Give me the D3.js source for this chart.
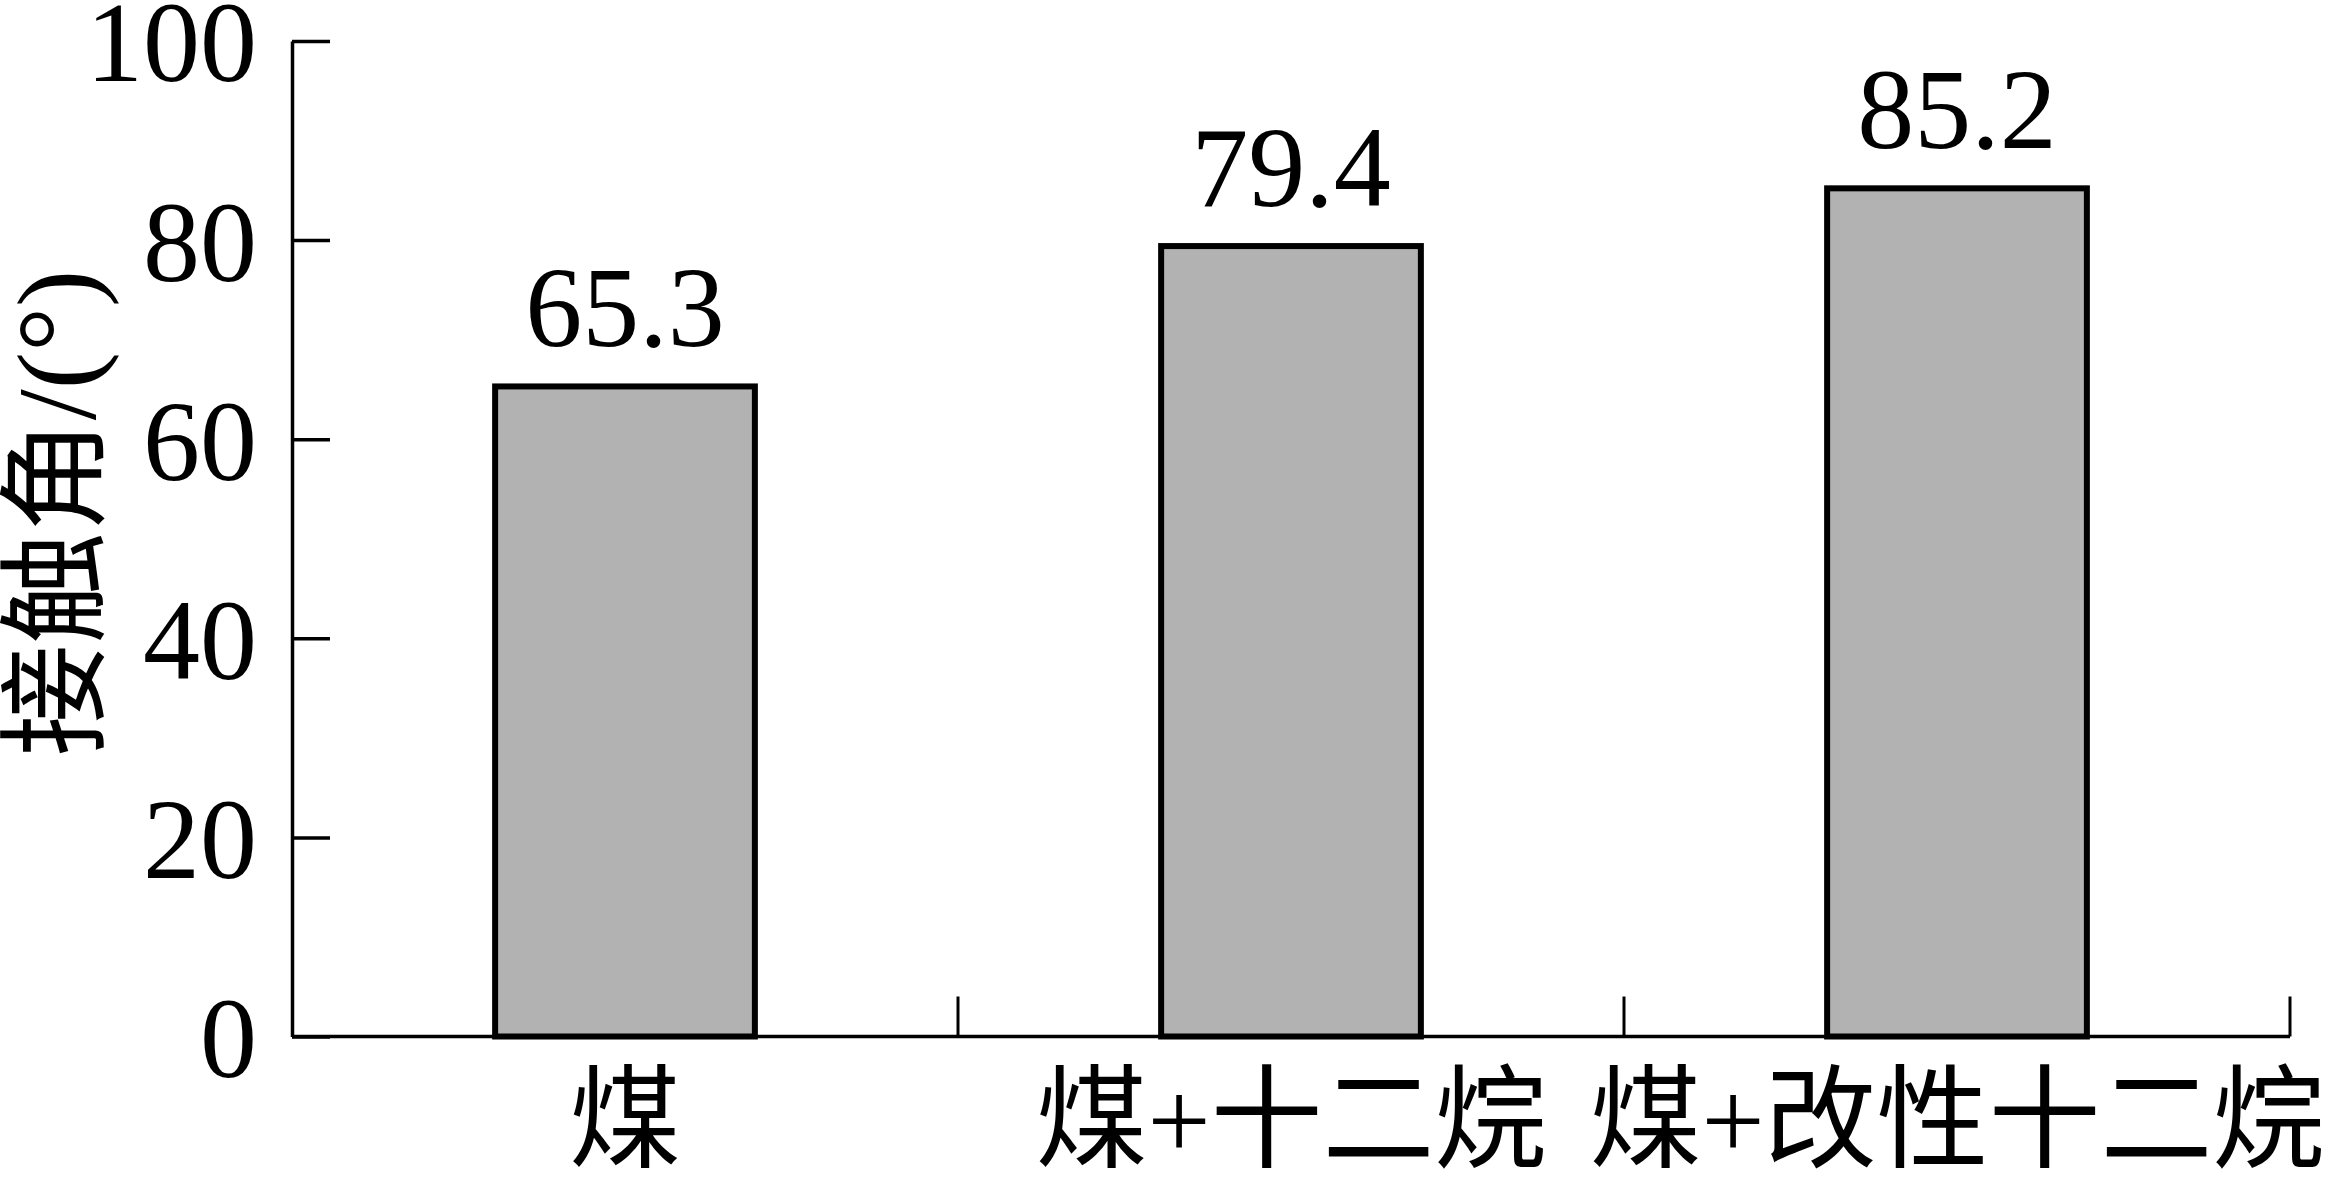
<!DOCTYPE html>
<html>
<head>
<meta charset="utf-8">
<script src="https://cdn.jsdelivr.net/npm/d3@7"></script>
<style>
  body { margin: 0; background: #fff; }
  text { font-family: "Liberation Serif", "Noto Sans CJK SC", serif; fill: #000; }
</style>
</head>
<body>
<div id="chart"></div>
<script>
var svgWidth = 2329;
var svgHeight = 1185;

var margin = { top: 41, right: 39, bottom: 148.5, left: 292 };
var width = svgWidth - margin.left - margin.right;
var height = svgHeight - margin.top - margin.bottom;

// chart data
var categories = ["煤", "煤+十二烷", "煤+改性十二烷"];
var contactAngle = [65.3, 79.4, 85.2];
var valueLabels = ["65.3", "79.4", "85.2"];
var yTicks = [0, 20, 40, 60, 80, 100];

var svg = d3.select("#chart")
  .append("svg")
  .attr("width", svgWidth)
  .attr("height", svgHeight);

var chartGroup = svg.append("g")
  .attr("transform", `translate(${margin.left}, ${margin.top})`);

// scales
var xBand = d3.scaleBand()
  .domain(categories)
  .range([0, width])
  .paddingInner(0.61)
  .paddingOuter(0.305);

var xOuter = d3.scaleBand()
  .domain(categories)
  .range([0, width])
  .padding(0);

var yLinearScale = d3.scaleLinear()
  .domain([0, 100])
  .range([height, 0]);

// bars
chartGroup.selectAll(".bar")
  .data(contactAngle)
  .enter()
  .append("rect")
  .attr("class", "bar")
  .attr("x", (d, i) => xBand(categories[i]))
  .attr("width", xBand.bandwidth())
  .attr("y", d => yLinearScale(d))
  .attr("height", d => height - yLinearScale(d))
  .attr("fill", "#b2b2b2")
  .attr("stroke", "#000")
  .attr("stroke-width", 6);

// value labels
chartGroup.selectAll(".valueText")
  .data(contactAngle)
  .enter()
  .append("text")
  .attr("class", "valueText")
  .attr("x", (d, i) => xBand(categories[i]) + xBand.bandwidth() / 2)
  .attr("y", d => yLinearScale(d) - 40)
  .attr("text-anchor", "middle")
  .attr("font-size", "114px")
  .text((d, i) => valueLabels[i]);

// y axis (ticks point inward)
var leftAxis = d3.axisLeft(yLinearScale)
  .tickValues(yTicks)
  .tickSize(-38)
  .tickSizeOuter(0)
  .tickPadding(35);

var yAxis = chartGroup.append("g")
  .call(leftAxis);
yAxis.select(".domain").attr("stroke", "#000").attr("stroke-width", 3.5);
yAxis.selectAll(".tick line").attr("stroke", "#000").attr("stroke-width", 3.5);
yAxis.selectAll(".tick text")
  .attr("font-family", "Liberation Serif")
  .attr("font-size", "114px")
  .attr("dy", "0.35em");

// x axis line and separator ticks
chartGroup.append("line")
  .attr("x1", 0)
  .attr("x2", width)
  .attr("y1", height)
  .attr("y2", height)
  .attr("stroke", "#000")
  .attr("stroke-width", 3.5);

chartGroup.selectAll(".xTick")
  .data(categories)
  .enter()
  .append("line")
  .attr("class", "xTick")
  .attr("x1", d => xOuter(d) + xOuter.bandwidth())
  .attr("x2", d => xOuter(d) + xOuter.bandwidth())
  .attr("y1", height)
  .attr("y2", height - 40)
  .attr("stroke", "#000")
  .attr("stroke-width", 3);

// category labels
chartGroup.selectAll(".catText")
  .data(categories)
  .enter()
  .append("text")
  .attr("class", "catText")
  .attr("x", d => xBand(d) + xBand.bandwidth() / 2)
  .attr("y", height + 122)
  .attr("text-anchor", "middle")
  .attr("font-size", "112px")
  .text(d => d);

// y axis title
svg.append("text")
  .attr("transform", "translate(57, 513) rotate(-90)")
  .attr("text-anchor", "middle")
  .attr("dominant-baseline", "central")
  .attr("font-size", "112px")
  .text("接触角/(°)");
</script>
</body>
</html>
